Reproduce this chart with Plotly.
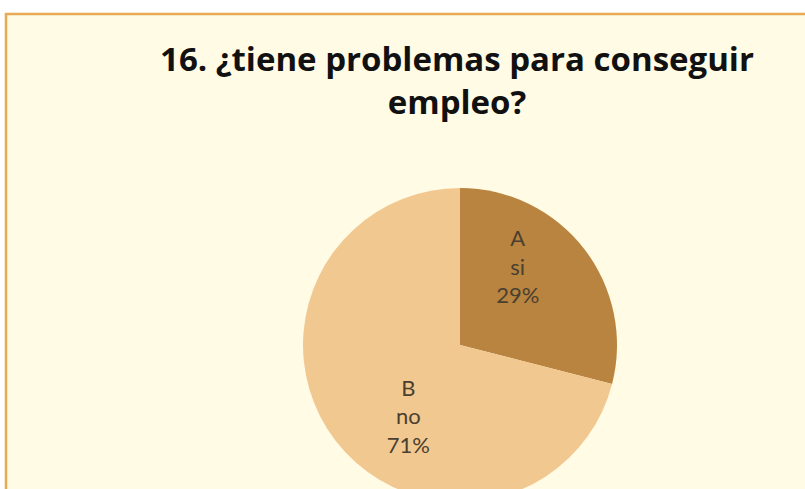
import plotly.graph_objects as go

letters = ["A", "B"]
answers = ["si", "no"]
shares = [29, 71]
colors = ["#B9843F", "#F2C891"]

W, H = 805, 520
cx, cy, r = 460, 345, 157


def dom(rad):
    return dict(x=[(cx - rad) / W, (cx + rad) / W], y=[max(0, 1 - (cy + rad) / H), 1 - (cy - rad) / H])


fig = go.Figure()
# the slices
fig.add_trace(go.Pie(
    labels=answers, values=shares, sort=False,
    direction="clockwise", rotation=0,
    marker=dict(colors=colors, line=dict(width=0)),
    textinfo="none", domain=dom(r),
    showlegend=False, hoverinfo="skip",
))
# the labels (transparent copy, nudged like Excel places them)
fig.add_trace(go.Pie(
    labels=answers, values=shares, customdata=letters, sort=False,
    direction="clockwise", rotation=-16,
    marker=dict(colors=["rgba(0,0,0,0)"] * 2, line=dict(width=0)),
    texttemplate="%{customdata}<br>%{label}<br>%{percent:.0%}",
    textposition="inside", insidetextorientation="horizontal",
    textfont=dict(family="Lato", size=22, color="#4a4030"),
    domain=dom(175),
    showlegend=False, hoverinfo="skip",
))

# frame: white outside, cream card with orange edge
fig.add_shape(type="rect", xref="paper", yref="paper", x0=6 / W, x1=1.05, y0=-0.05, y1=1 - 14 / H,
              fillcolor="#FFFBE5", line=dict(color="#E8AA55", width=2.5), layer="below")

fig.update_layout(
    width=W, height=H,
    margin=dict(l=0, r=0, t=0, b=0),
    paper_bgcolor="white",
    plot_bgcolor="white",
    title=dict(text="<b>16. ¿tiene problemas para conseguir<br>empleo?</b>",
               x=457 / W, xanchor="center", y=1 - 71 / H, yanchor="middle",
               font=dict(family="Open Sans", size=33, color="#111111")),
)

fig.write_html("out.html", config={"displayModeBar": False},
               post_script="document.body.style.margin='0';document.body.style.overflow='hidden';")
